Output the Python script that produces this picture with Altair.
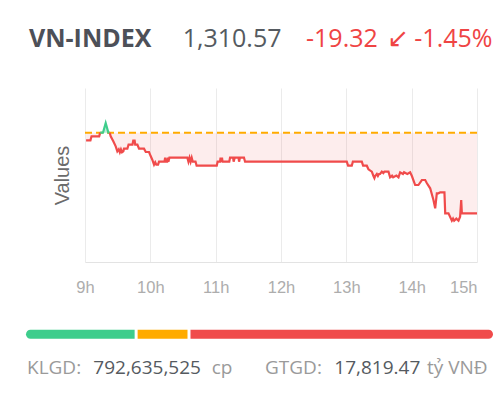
import altair as alt
import pandas as pd

# ---------------- data ----------------
INDEX_NAME = "VN-INDEX"
LAST = 1310.57
CHANGE = -19.32
CHANGE_PCT = -1.45
REF = 1329.89
KLGD = 792635525
GTGD = 17819.47

minutes = [1, 5, 6, 13, 14, 16.5, 19, 21.5, 22.7, 23.6, 26, 28.2, 29.7, 31, 32, 33, 34, 35.2,
           35.8, 38.9, 40, 43.6, 44.3, 45.6, 46.1, 48.1, 49.6, 54.2, 55.8, 58.8, 60.4, 61.8,
           63.4, 64.5, 65.5, 67.1, 68, 73, 73.6, 74.2, 75.5, 76, 76.6, 77.5, 94, 95, 96, 97,
           98, 99, 101.5, 102.5, 121, 121.8, 124, 124.5, 125, 125.8, 126.3, 132.5, 133.2, 136,
           136.5, 137.5, 141, 141.5, 142.3, 146, 147, 240.4, 241.6, 245, 246, 254.2, 255.4,
           258.8, 260.3, 263.4, 264.9, 265.8, 266.5, 268, 269, 270, 271, 272.6, 274, 275,
           278.7, 280.2, 282, 283, 286, 287.9, 289.4, 292, 293, 296, 298.6, 300.2, 303.2,
           306.2, 309.4, 312.4, 314, 317, 320, 321.6, 323.1, 324.6, 326.2, 330.1, 330.8,
           333.8, 336.9, 338, 339, 341, 343, 344.5, 345.5, 346.1, 360]
values = [1328.07, 1328.07, 1329.03, 1329.03, 1329.89, 1329.89, 1332.22, 1329.89, 1329.89,
          1329.03, 1327.83, 1326.63, 1325.43, 1325.90, 1325.20, 1325.90, 1325.20, 1325.43,
          1326.05, 1326.05, 1327.01, 1327.01, 1327.97, 1327.97, 1327.01, 1327.01, 1326.05,
          1326.05, 1325.26, 1325.26, 1324.23, 1323.42, 1322.22, 1322.80, 1322.22, 1322.22,
          1322.94, 1322.94, 1323.90, 1322.94, 1322.94, 1323.90, 1322.94, 1323.90, 1323.90,
          1322.94, 1323.90, 1322.94, 1323.90, 1322.94, 1322.94, 1321.98, 1321.98, 1322.94,
          1322.94, 1323.90, 1322.94, 1323.90, 1322.94, 1322.94, 1323.90, 1323.90, 1322.94,
          1323.90, 1323.90, 1322.94, 1323.90, 1323.90, 1322.94, 1322.94, 1321.98, 1321.98,
          1322.94, 1322.94, 1321.98, 1321.98, 1321.12, 1320.54, 1319.51, 1319.00, 1319.51,
          1319.99, 1319.51, 1319.99, 1319.99, 1320.54, 1320.20, 1320.54, 1320.54, 1319.20,
          1319.60, 1319.20, 1319.60, 1319.20, 1320.40, 1320.00, 1320.40, 1320.00, 1320.40,
          1319.51, 1317.35, 1317.35, 1318.55, 1318.55, 1317.76, 1316.56, 1313.76, 1311.77,
          1315.36, 1315.36, 1315.60, 1315.60, 1310.57, 1310.57, 1308.80, 1309.30, 1308.80,
          1309.30, 1308.80, 1309.76, 1313.76, 1310.57, 1310.57]

hour_ticks = [0, 60, 120, 180, 240, 300, 360]

breadth_keys = ["up", "flat", "down"]
breadth_counts = [95, 45, 260]

# ---------------- styles ----------------
GREEN = "#3ecd8c"
ORANGE = "#ffab00"
RED = "#f04b4b"
W, H = 392, 174

df = pd.DataFrame({"m": minutes, "v": values})
df["ref"] = REF
df["lo"] = df["v"].clip(upper=REF)
df["hi"] = df["v"].clip(lower=REF)

rows = []
seg = 0
prev = None
for i in range(len(minutes) - 1):
    c = "up" if min(values[i], values[i + 1]) >= REF else "down"
    if c != prev:
        seg += 1
        rows.append({"m": minutes[i], "v": values[i], "seg": seg, "c": c})
        prev = c
    rows.append({"m": minutes[i + 1], "v": values[i + 1], "seg": seg, "c": c})
seg_df = pd.DataFrame(rows)

color_scale = alt.Scale(domain=breadth_keys, range=[GREEN, ORANGE, RED])

x_axis = alt.Axis(values=hour_ticks, labelExpr="(datum.value / 60 + 9) + 'h'",
                  labelAlign=alt.expr("datum.value >= 360 ? 'right' : 'center'"),
                  grid=True, gridColor="#ebebeb", domainColor="#e3e3e3", ticks=False,
                  tickSize=0, labelPadding=17, labelFontSize=16.5, labelColor="#adadad",
                  labelFont="Liberation Sans", title=None)
x_scale = alt.Scale(domain=[0, 360], nice=False, zero=False)
y_axis = alt.Axis(labels=False, ticks=False, domain=False, grid=False, title="Values",
                  titleFontSize=20, titleFontWeight="normal", titleColor="#6b6b6b",
                  titleFont="Liberation Sans", titlePadding=13)
y_scale = alt.Scale(domain=[1298.9, 1340.6], nice=False, zero=False)

X = alt.X("m:Q", scale=x_scale, axis=x_axis, title=None)

area_red = alt.Chart(df).mark_area(color=RED, opacity=0.1).encode(
    x=X, y=alt.Y("lo:Q", scale=y_scale, axis=y_axis, title="Values"), y2="ref:Q")
area_green = alt.Chart(df).mark_area(color=GREEN, opacity=0.35).encode(
    x=X, y=alt.Y("hi:Q", scale=y_scale, axis=y_axis, title="Values"), y2="ref:Q")
ref_rule = alt.Chart(pd.DataFrame({"ref": [REF]})).mark_rule(
    color="#ffab00", strokeWidth=2, strokeDash=[7, 4]).encode(
    y=alt.Y("ref:Q", scale=y_scale, axis=y_axis, title="Values"))
line = alt.Chart(seg_df).mark_line(strokeWidth=2.2).encode(
    x=X, y=alt.Y("v:Q", scale=y_scale, axis=y_axis, title="Values"),
    detail="seg:N", color=alt.Color("c:N", scale=color_scale, legend=None))

main = alt.layer(area_red, area_green, ref_rule, line)

# breadth bar
bdf = pd.DataFrame({"key": breadth_keys, "n": breadth_counts})
bdf["x1"] = bdf["n"].cumsum()
bdf["x0"] = bdf["x1"] - bdf["n"]
total = int(sum(breadth_counts))
bars = alt.Chart(bdf).mark_rect(
    x2Offset=-3,
    cornerRadiusTopLeft=alt.expr("datum.key === 'up' ? 4.5 : 0"),
    cornerRadiusBottomLeft=alt.expr("datum.key === 'up' ? 4.5 : 0"),
    cornerRadiusTopRight=alt.expr("datum.key === 'down' ? 4.5 : 0"),
    cornerRadiusBottomRight=alt.expr("datum.key === 'down' ? 4.5 : 0"),
).encode(
    x=alt.X("x0:Q", scale=alt.Scale(domain=[0, total], range=[-59, 411], nice=False, zero=False), axis=None),
    x2="x1:Q",
    y=alt.value(241.7), y2=alt.value(250.7),
    color=alt.Color("key:N", scale=color_scale, legend=None),
)


def label(txt, x, y, size, color, weight="normal", font="Open Sans", align="left"):
    return alt.Chart(pd.DataFrame({"t": [txt]})).mark_text(
        font=font, fontSize=size, color=color, fontWeight=weight, align=align,
        baseline="alphabetic").encode(text="t:N", x=alt.value(x), y=alt.value(y))


HY = -41.3
FY = 286.3
texts = [
    label(INDEX_NAME, -56, HY, 25, "#4d5058", weight="bold"),
    label(f"{LAST:,.2f}", 97.7, HY, 25, "#555a60"),
    label(f"{CHANGE:.2f}", 221, HY, 25, "#ef4444"),
    label("\u2199", 302, HY, 26, "#ef4444", font="DejaVu Sans"),
    label(f"{CHANGE_PCT:.2f}%", 407.5, HY, 25, "#ef4444", align="right"),
    label("KLGD:", -58, FY, 19, "#9a9a9a"),
    label(f"{KLGD:,}", 8.3, FY, 19, "#555a60"),
    label("cp", 126.7, FY, 19, "#9a9a9a"),
    label("GTGD:", 180, FY, 19, "#9a9a9a"),
    label(f"{GTGD:,.2f}", 249.3, FY, 19, "#555a60"),
    label("tỷ VNĐ", 342, FY, 19, "#9a9a9a"),
]

chart = alt.layer(main, bars, *texts).resolve_scale(x="independent").properties(
    width=W, height=H,
    padding={"left": 77, "top": 80, "right": 16, "bottom": 135},
    autosize=alt.AutoSizeParams(type="none"),
).configure_view(strokeWidth=0)

chart.save("out.html", embed_options={"renderer": "svg", "actions": False})
